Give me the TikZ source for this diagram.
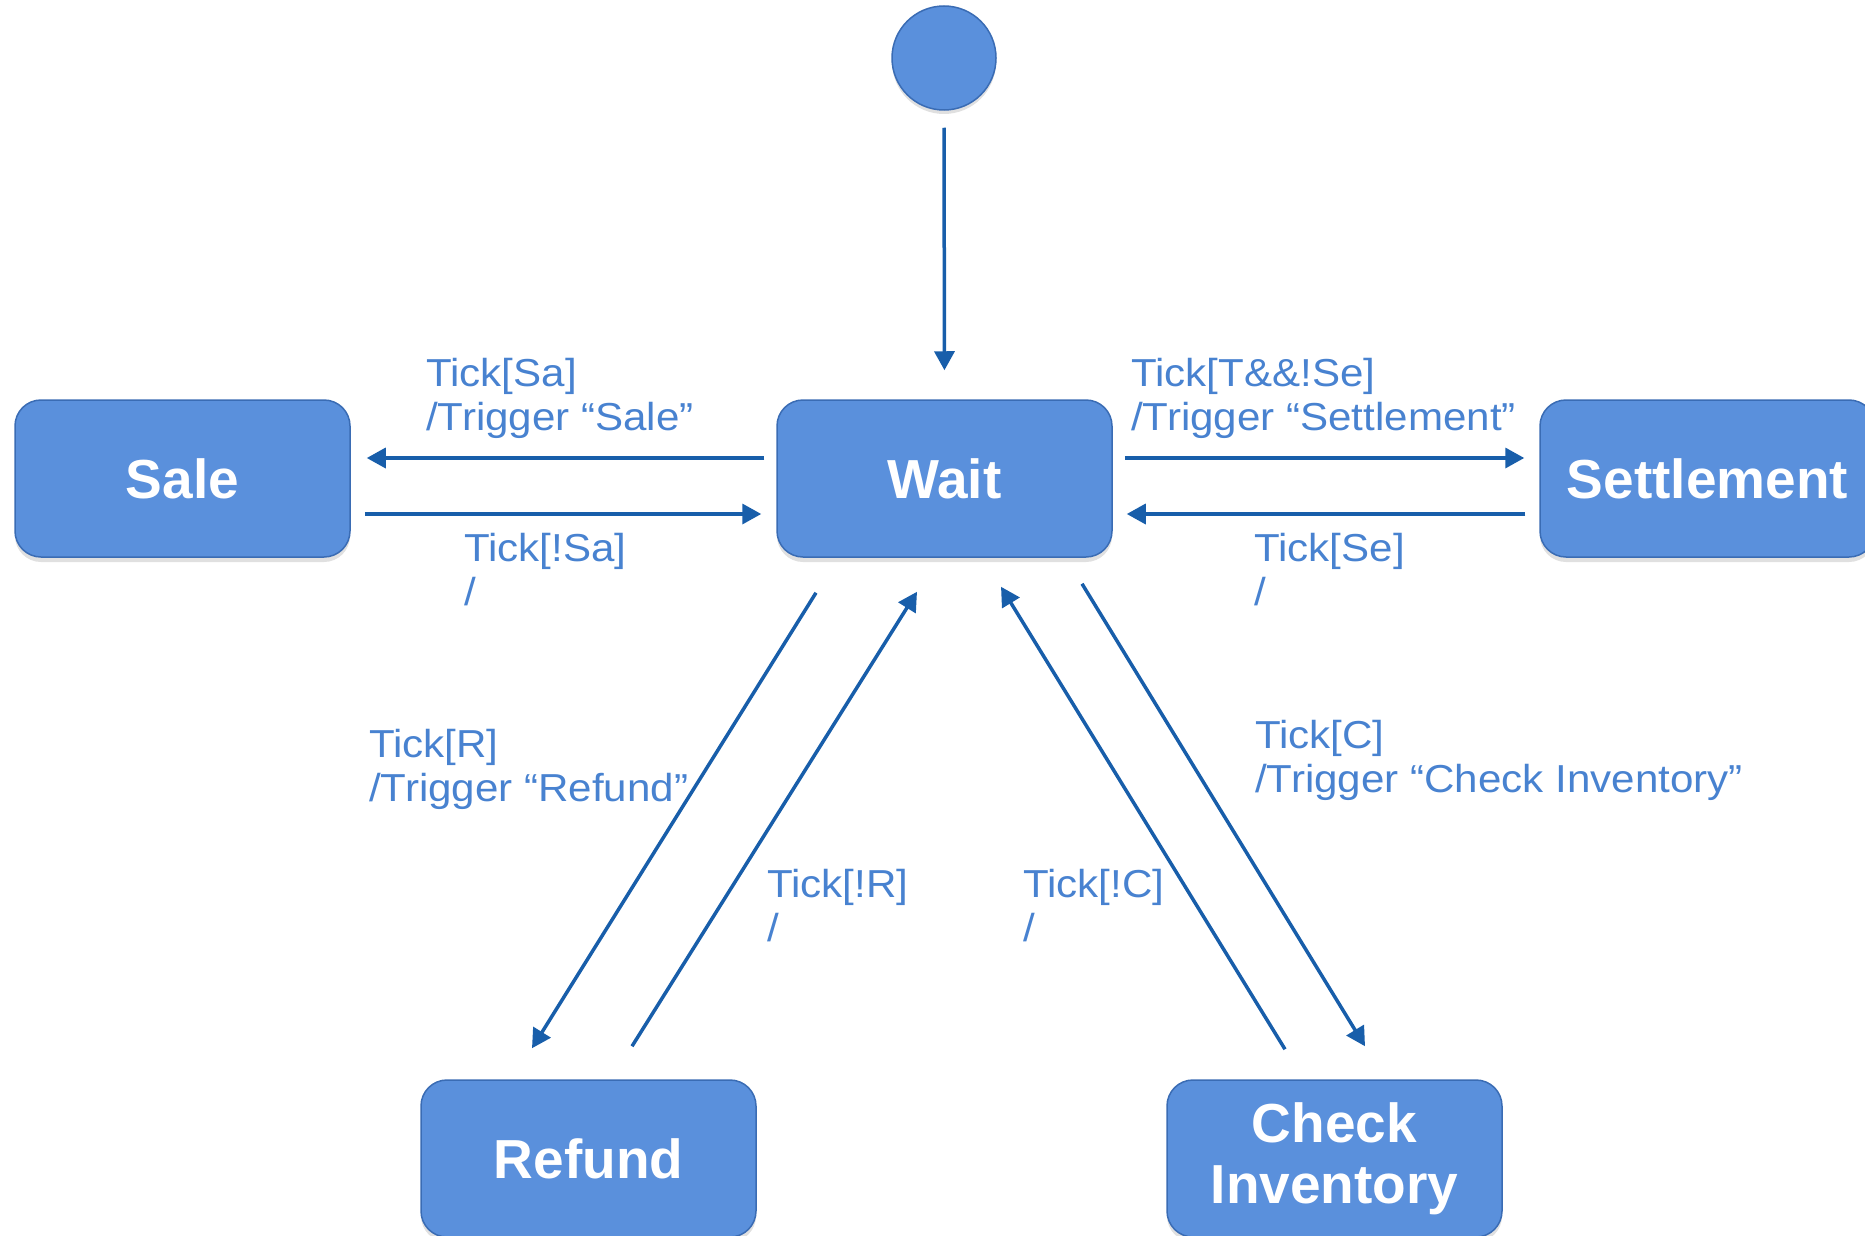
\documentclass[tikz,border=0pt]{standalone}
\usepackage{fontspec}
\setmainfont{Liberation Sans}
\newfontfamily\translabelfont[FakeStretch=1.08]{Liberation Sans}
\usetikzlibrary{arrows.meta,shadows}

\definecolor{boxfill}{RGB}{90,144,220}
\definecolor{boxline}{RGB}{58,108,180}
\definecolor{arrowblue}{RGB}{24,94,170}
\definecolor{labelblue}{RGB}{72,130,208}

\tikzset{
  statebox/.style={rectangle, rounded corners=26pt, minimum width=335pt,
    minimum height=157pt, fill=boxfill, draw=boxline, line width=1.5pt,
    text=white, align=center, inner sep=0pt,
    font=\fontsize{55}{61}\selectfont\bfseries,
    drop shadow={shadow xshift=0pt, shadow yshift=-5pt, opacity=0.2, fill=black!60}},
  initstate/.style={circle, minimum size=104pt, inner sep=0pt, fill=boxfill,
    draw=boxline, line width=1.5pt,
    drop shadow={shadow xshift=0pt, shadow yshift=-4pt, opacity=0.2, fill=black!60}},
  arr/.style={draw=arrowblue, line width=3.5pt,
    -{Triangle[length=19pt,width=20pt]}},
  trans/.style={text=labelblue, align=left, anchor=west, inner sep=0pt,
    font=\translabelfont\fontsize{39}{44}\selectfont}
}

\begin{document}
\begin{tikzpicture}[x=1pt,y=-1pt]
  \useasboundingbox (0,0) rectangle (1865,1236);

  % states
  \node[initstate] (init) at (944,58) {};
  \node[statebox] (wait) at (944.5,478.5) {Wait};
  \node[statebox] (sale) at (182.5,478.5) {Sale};
  \node[statebox] (settle) at (1707.5,478.5) {Settlement};
  \node[statebox] (refund) at (588.5,1158.5) {Refund};
  \node[statebox] (check) at (1334.5,1158.5) {Check\\Inventory};

  % initial transition
  \draw[arr, shorten <=17pt, shorten >=29pt] (init.south) -- (wait.north);

  % Wait <-> Sale
  \draw[arr] ([xshift=-12pt,yshift=20.5pt]wait.west) -- ([xshift=16pt,yshift=20.5pt]sale.east);
  \draw[arr] ([xshift=14pt,yshift=-35.5pt]sale.east) -- ([xshift=-15pt,yshift=-35.5pt]wait.west);

  % Wait <-> Settlement
  \draw[arr] ([xshift=12pt,yshift=20.5pt]wait.east) -- ([xshift=-15pt,yshift=20.5pt]settle.west);
  \draw[arr] ([xshift=-14pt,yshift=-35.5pt]settle.west) -- ([xshift=14pt,yshift=-35.5pt]wait.east);

  % Wait <-> Refund
  \draw[arr] ([xshift=-128.5pt,yshift=-35pt]wait.south) -- ([xshift=-56.5pt,yshift=31pt]refund.north);
  \draw[arr] ([xshift=43.5pt,yshift=33pt]refund.north) -- ([xshift=-27.5pt,yshift=-34pt]wait.south);

  % Wait <-> Check Inventory
  \draw[arr] ([xshift=-49.5pt,yshift=30pt]check.north) -- ([xshift=56.5pt,yshift=-29pt]wait.south);
  \draw[arr] ([xshift=137.5pt,yshift=-26pt]wait.south) -- ([xshift=30.5pt,yshift=33pt]check.north);

  % transition labels
  \node[trans] (lsa) at (426,398) {Tick[Sa]\\/Trigger “Sale”};
  \node[trans] (lnsa) at (464,570) {Tick[!Sa]\\/};
  \node[trans] (lse) at (1131,398) {Tick[T\&\&!Se]\\/Trigger “Settlement”};
  \node[trans] (lnse) at (1254,570) {Tick[Se]\\/};
  \node[trans] (lr) at (369,769) {Tick[R]\\/Trigger “Refund”};
  \node[trans] (lnr) at (767,906) {Tick[!R]\\/};
  \node[trans] (lnc) at (1023,906) {Tick[!C]\\/};
  \node[trans] (lc) at (1255,760) {Tick[C]\\/Trigger “Check Inventory”};
\end{tikzpicture}
\end{document}
